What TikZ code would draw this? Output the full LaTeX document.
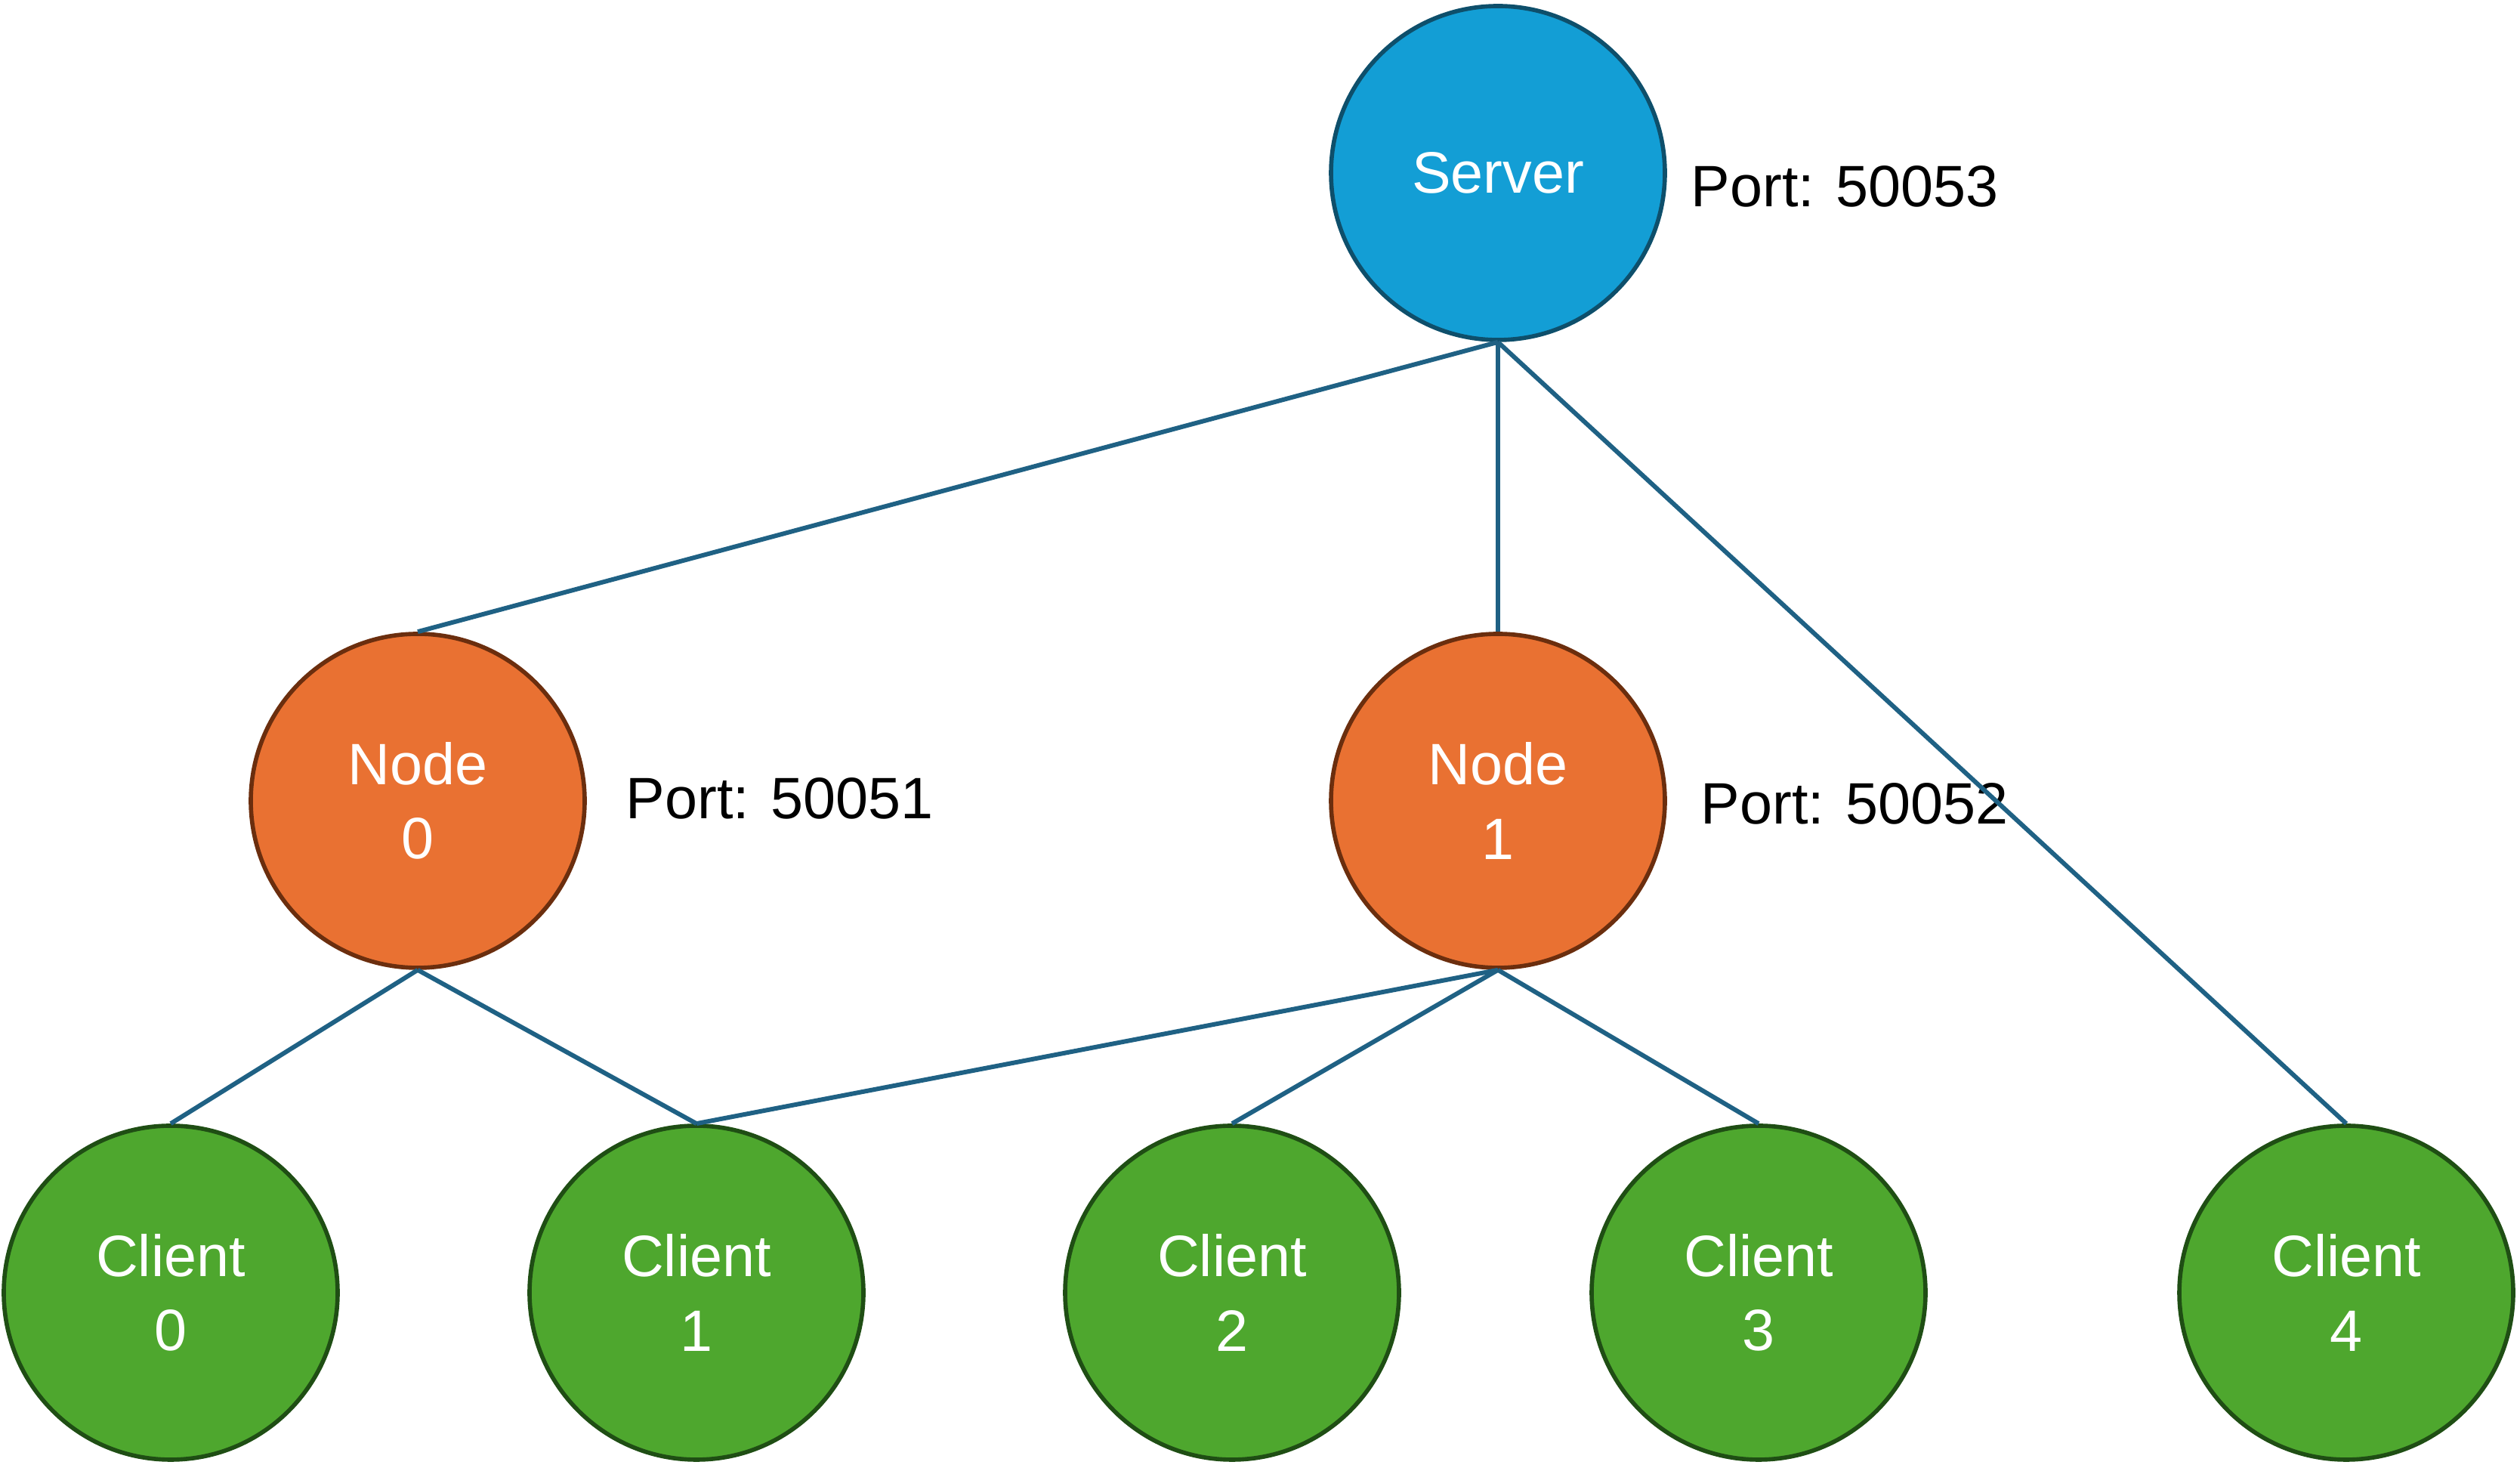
\documentclass[tikz,border=0pt]{standalone}
\usepackage{fontspec}
\setmainfont{Liberation Sans}
\usepackage{tikz}
\usetikzlibrary{calc}

\definecolor{serverblue}{HTML}{139ED5}
\definecolor{serveredge}{HTML}{0E4F6B}
\definecolor{nodeorange}{HTML}{E97132}
\definecolor{nodeedge}{HTML}{6B2E0E}
\definecolor{clientgreen}{HTML}{4EA72E}
\definecolor{clientedge}{HTML}{1F4E14}
\definecolor{linkblue}{HTML}{1F6184}

\begin{document}
\begin{tikzpicture}[
        bubble/.style={circle, minimum size=4.42cm, inner sep=0pt, line width=1.6pt,
            text=white, align=center, font=\fontsize{22}{28}\selectfont},
        serverbubble/.style={bubble, draw=serveredge, fill=serverblue},
        nodebubble/.style={bubble, draw=nodeedge, fill=nodeorange},
        clientbubble/.style={bubble, draw=clientedge, fill=clientgreen},
        portlabel/.style={anchor=west, inner sep=0pt, font=\fontsize{22}{28}\selectfont},
        link/.style={line width=1.7pt, color=linkblue}
    ]
                \useasboundingbox (0,0) rectangle (33.36,19.43);
                \node[serverbubble] (server) at (19.83,17.14) {Server};
                \node[nodebubble] (node0) at (5.53,8.83) {Node\\0};
                \node[nodebubble] (node1) at (19.83,8.83) {Node\\1};
                \foreach \x/\i in {2.26/0, 9.22/1, 16.31/2, 23.28/3, 31.06/4}
                    \node[clientbubble] (client\i) at (\x,2.32) {Client\\\i};
                \node[portlabel] (port3) at (22.38,16.96) {Port: 50053};
                \node[portlabel] (port1) at (8.28,8.86) {Port: 50051};
                \node[portlabel] (port2) at (22.51,8.79) {Port: 50052};
                \draw[link] (server.south) -- (node0.north);
                \draw[link] (server.south) -- (node1.north);
                \draw[link] (server.south) -- (client4.north);
                \draw[link] (node0.south) -- (client0.north);
                \draw[link] (node0.south) -- (client1.north);
                \foreach \c in {client1,client2,client3}
                    \draw[link] (node1.south) -- (\c.north);
            \end{tikzpicture}
\end{document}
